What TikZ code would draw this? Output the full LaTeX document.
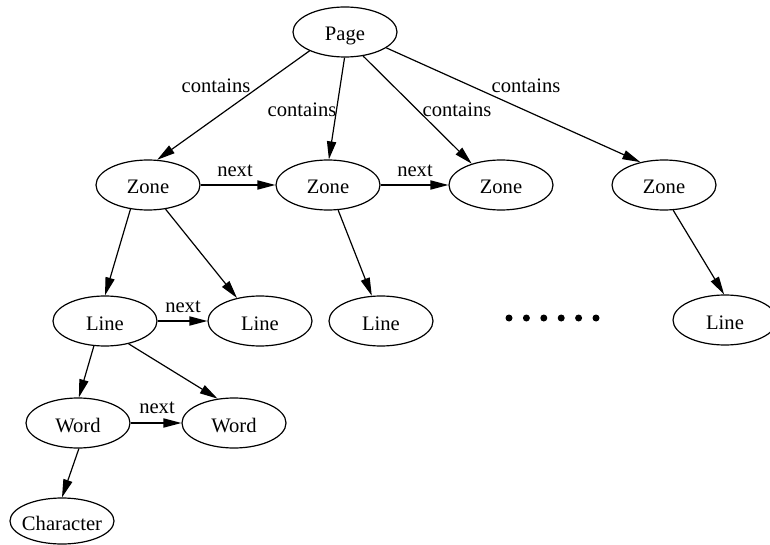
\documentclass[tikz,border=0pt]{standalone}
\usepackage{fontspec}
\setmainfont{Liberation Serif}
\usepackage{tikz}
\usetikzlibrary{arrows.meta, shapes.geometric}
\tikzset{
  elem/.style={draw, ellipse, line width=0.6pt, minimum width=52pt,
               minimum height=25pt, inner sep=0pt,
               text height=9pt, text depth=0pt},
  rel/.style={-{Triangle[length=9pt,width=4.6pt]}, line width=0.6pt},
  tag/.style={inner sep=0pt}
}

\begin{document}
\begin{tikzpicture}[x=0.5pt, y=-0.5pt, font=\fontsize{10.3}{12}\selectfont]

\clip (0,0) rectangle (770,545);

% page and its zones
\node[elem] (page)  at (345,32)  {Page};
\node[elem] (zoneA) at (148,185) {Zone};
\node[elem] (zoneB) at (328,185) {Zone};
\node[elem] (zoneC) at (501,185) {Zone};
\node[elem] (zoneD) at (664,185) {Zone};

\draw[rel] (page.208) -- (zoneA.70);
\draw[rel] (page.269) -- (zoneB.88);
\draw[rel] (page.307) -- (zoneC.144);
\draw[rel] (page.339) -- (zoneD.136);
\node[tag] (cA) at (216,86)  {contains};
\node[tag] (cB) at (302,110) {contains};
\node[tag] (cC) at (457,110) {contains};
\node[tag] (cD) at (526,86)  {contains};

\draw[rel] (zoneA.east) -- (zoneB.west);
\draw[rel] (zoneB.east) -- (zoneC.west);
\node[tag] (nA) at (235,171) {next};
\node[tag] (nB) at (415,171) {next};

% lines
\node[elem] (lineA) at (105,321) {Line};
\node[elem] (lineB) at (260,321) {Line};
\node[elem] (lineC) at (381,321) {Line};
\node[elem] (lineD) at (725,320) {Line};
\foreach \i in {0,...,5}
  \fill (509+17.4*\i,318) circle (3.5);

\draw[rel] (zoneA.234) -- (lineA.90);
\draw[rel] (zoneA.306) -- (lineB.135);
\draw[rel] (zoneB.292) -- (lineC.110);
\draw[rel] (zoneD.290) -- (lineD.92);
\draw[rel] (lineA.east) -- (lineB.west);
\node[tag] (nC) at (183,307) {next};

% words and characters
\node[elem] (wordA) at (78,423)  {Word};
\node[elem] (wordB) at (234,423) {Word};
\node[elem, minimum height=23pt, inner xsep=-2pt] (chr) at (62,521) {Character};

\draw[rel] (lineA.246) -- (wordA.88);
\draw[rel] (lineA.316) -- (wordB.124);
\draw[rel] (wordA.east) -- (wordB.west);
\node[tag] (nD) at (157,408) {next};
\draw[rel] (wordA.272) -- (chr.90);

\end{tikzpicture}
\end{document}
